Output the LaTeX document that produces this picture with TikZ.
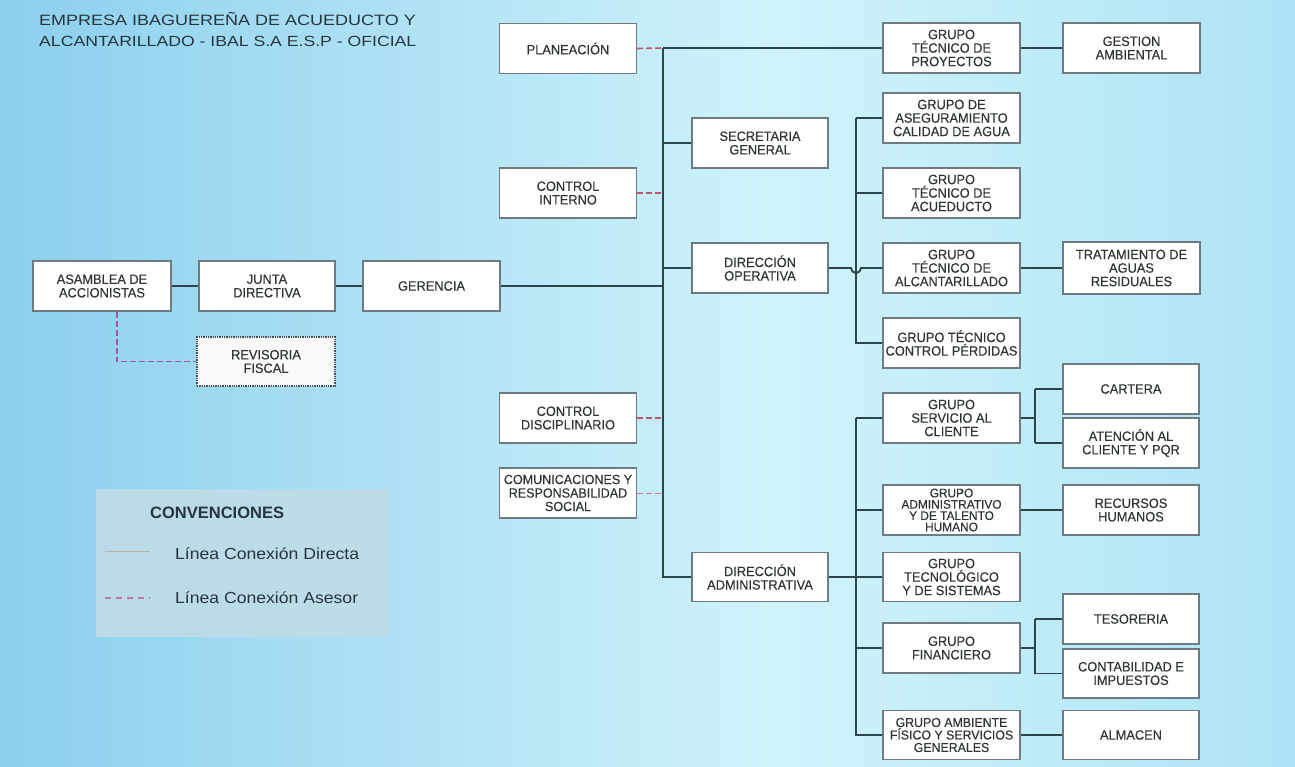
\documentclass[tikz,border=0pt]{standalone}
\usepackage{fontspec}
\setmainfont{Liberation Sans}
\newfontfamily\titlefont[FakeStretch=1.2]{Liberation Sans}
\newfontfamily\legfont[FakeStretch=1.1]{Liberation Sans}
\newfontfamily\boxfont[FakeStretch=0.95,FakeBold=0.15]{Liberation Sans}
\definecolor{bgA}{HTML}{58B0DE}
\definecolor{bgB}{HTML}{8CCFEE}
\definecolor{bgC}{HTML}{D0F3FB}
\definecolor{bgD}{HTML}{A5E0F4}
\definecolor{bgE}{HTML}{6CC4EC}
\definecolor{boxc}{HTML}{6E7C82}
\definecolor{linec}{HTML}{2C454C}
\definecolor{advc}{HTML}{C2566E}
\definecolor{advp}{HTML}{A8579A}
\definecolor{txt}{HTML}{2E3436}
\definecolor{titc}{HTML}{26363E}
\definecolor{legc}{HTML}{BFDCE7}
\pgfdeclarehorizontalshading{bgshade}{100bp}{color(0bp)=(bgA); color(25bp)=(bgB); color(55bp)=(bgC); color(80bp)=(bgD); color(100bp)=(bgE)}
\begin{document}
\begin{tikzpicture}[x=1pt,y=-1pt,
  box/.style={draw=boxc, line width=1.3pt, fill=white, minimum width=137pt, minimum height=50pt, inner sep=0pt, align=center, font=\boxfont\fontsize{13.5}{13.5}\selectfont, text=txt},
  conn/.style={draw=linec, line width=1.9pt},
  adv/.style={draw=advc, line width=1.6pt, dash pattern=on 6pt off 3pt},
  legtext/.style={anchor=west, inner sep=0pt, text=titc, font=\legfont\fontsize{16}{16}\selectfont},
]
\path[shading=bgshade] (0,0) rectangle (1295,767);
\useasboundingbox (0,0) rectangle (1295,767);

% title
\node[anchor=west, inner sep=0pt, text=titc, font=\titlefont\fontsize{15}{15}\selectfont] (t1) at (39,19) {EMPRESA IBAGUEREÑA DE ACUEDUCTO Y};
\node[anchor=west, inner sep=0pt, text=titc, font=\titlefont\fontsize{14.7}{15}\selectfont] (t2) at (39,41) {ALCANTARILLADO - IBAL S.A E.S.P - OFICIAL};

% left chain
\node[box, minimum width=138pt] (asam) at (102,286) {ASAMBLEA DE\\ACCIONISTAS};
\node[box, minimum width=136pt] (junta) at (267,286) {JUNTA\\DIRECTIVA};
\node[box] (ger) at (431.5,286) {GERENCIA};
\node[box, draw=black!70, densely dotted, fill=white!96!gray, minimum width=138pt, minimum height=49pt] (rev) at (266,361.5) {REVISORIA\\FISCAL};

% staff / directions
\node[box] (plan) at (568,48.5) {PLANEACIÓN};
\node[box, minimum width=136pt] (secg) at (760,143) {SECRETARIA\\GENERAL};
\node[box] (cint) at (568,193) {CONTROL\\INTERNO};
\node[box, minimum width=136pt] (dop) at (760,268) {DIRECCIÓN\\OPERATIVA};
\node[box] (cdis) at (568,418) {CONTROL\\DISCIPLINARIO};
\node[box, font=\boxfont\fontsize{13.2}{13.5}\selectfont] (com) at (568,493) {COMUNICACIONES Y\\RESPONSABILIDAD\\SOCIAL};
\node[box, minimum width=136pt, minimum height=49pt] (dadm) at (760,577) {DIRECCIÓN\\ADMINISTRATIVA};

% groups
\node[box] (gtp) at (951.5,48) {GRUPO\\TÉCNICO DE\\PROYECTOS};
\node[box] (gamb) at (1131.5,48) {GESTION\\AMBIENTAL};
\node[box] (gasc) at (951.5,118) {GRUPO DE\\ASEGURAMIENTO\\CALIDAD DE AGUA};
\node[box] (gtac) at (951.5,193) {GRUPO\\TÉCNICO DE\\ACUEDUCTO};
\node[box] (galc) at (951.5,268) {GRUPO\\TÉCNICO DE\\ALCANTARILLADO};
\node[box, minimum height=52pt] (trat) at (1131.5,268) {TRATAMIENTO DE\\AGUAS\\RESIDUALES};
\node[box] (gcp) at (951.5,343) {GRUPO TÉCNICO\\CONTROL PÉRDIDAS};
\node[box] (gsc) at (951.5,418) {GRUPO\\SERVICIO AL\\CLIENTE};
\node[box, minimum width=136pt] (cart) at (1131,389) {CARTERA};
\node[box, minimum width=136pt] (aten) at (1131,443) {ATENCIÓN AL\\CLIENTE Y PQR};
\node[box, font=\boxfont\fontsize{12.5}{11.3}\selectfont] (gadm) at (951.5,510) {GRUPO\\ADMINISTRATIVO\\Y DE TALENTO\\HUMANO};
\node[box, minimum width=136pt] (rrhh) at (1131,510) {RECURSOS\\HUMANOS};
\node[box, minimum height=49pt] (gtec) at (951.5,577) {GRUPO\\TECNOLÓGICO\\Y DE SISTEMAS};
\node[box] (gfin) at (951.5,648) {GRUPO\\FINANCIERO};
\node[box, minimum width=136pt] (teso) at (1131,619) {TESORERIA};
\node[box, minimum width=136pt, minimum height=49pt] (cont) at (1131,673.5) {CONTABILIDAD E\\IMPUESTOS};
\node[box, font=\boxfont\fontsize{13}{12.5}\selectfont, minimum height=49pt] (gamf) at (951.5,735) {GRUPO AMBIENTE\\FÍSICO Y SERVICIOS\\GENERALES};
\node[box, minimum width=136pt, minimum height=49pt] (alm) at (1131,735) {ALMACEN};

% trunk coordinates
\coordinate (ta) at (663,48);
\coordinate (tb) at (663,577);
\coordinate (ua) at (856,118);
\coordinate (ub) at (856,343);
\coordinate (va) at (856,418);
\coordinate (vb) at (856,735);
\coordinate (bx1) at (1035,418);
\coordinate (bx2) at (1035,648);
\coordinate (hopa) at (851,268);
\coordinate (rk) at (117,361.5);

% direct connections
\draw[conn] (asam) -- (junta);
\draw[conn] (junta) -- (ger);
\draw[conn] (ger.east) -- (ger.east -| ta);
\draw[conn] (ta) -- (tb) -- (dadm.west);
\draw[conn] (ta) -- (gtp.west);
\draw[conn] (gtp) -- (gamb);
\draw[conn] (secg.west -| ta) -- (secg.west);
\draw[conn] (dop.west -| ta) -- (dop.west);
\draw[conn] (dop.east) -- (hopa) arc[start angle=180, end angle=360, radius=5pt] -- (galc.west);
\draw[conn] (ua) -- (ub) -- (gcp.west);
\draw[conn] (ua) -- (gasc.west);
\draw[conn] (gtac.west -| ua) -- (gtac.west);
\draw[conn] (galc) -- (trat);
\draw[conn] (va) -- (vb) -- (gamf.west);
\draw[conn] (va) -- (gsc.west);
\draw[conn] (gadm.west -| va) -- (gadm.west);
\draw[conn] (gfin.west -| va) -- (gfin.west);
\draw[conn] (dadm.east) -- (gtec.west);
\draw[conn] (gadm) -- (rrhh);
\draw[conn] (gamf) -- (alm);
\draw[conn] (gsc.east) -- (bx1);
\draw[conn] (bx1 |- cart.west) -- (bx1 |- aten.west);
\draw[conn] (bx1 |- cart.west) -- (cart.west);
\draw[conn] (bx1 |- aten.west) -- (aten.west);
\draw[conn] (gfin.east) -- (bx2);
\draw[conn] (bx2 |- teso.west) -- (bx2 |- cont.west);
\draw[conn] (bx2 |- teso.west) -- (teso.west);
\draw[conn] (bx2 |- cont.west) -- (cont.west);

% advisory connections
\draw[adv] (plan.east) -- (ta);
\draw[adv] (cint.east) -- (cint.east -| ta);
\draw[adv] (cdis.east) -- (cdis.east -| ta);
\draw[adv, line width=1pt, draw=advc!80] (com.east) -- (com.east -| ta);
\draw[adv, draw=advp] (asam.south -| rk) -- (rk) -- (rev.west);

% legend
\node[fill=legc, fill opacity=0.9, minimum width=292pt, minimum height=148pt, inner sep=0pt] (leg) at (242,563) {};
\node[anchor=west, inner sep=0pt, text=titc, font=\bfseries\fontsize{16.5}{16.5}\selectfont] (legt) at (150,513) {CONVENCIONES};
\node[legtext] (leg1) at (175,554) {Línea Conexión Directa};
\node[legtext] (leg2) at (175,598) {Línea Conexión Asesor};
\coordinate (s1a) at (105,551);
\coordinate (s1b) at (150,551);
\coordinate (s2a) at (105,598);
\coordinate (s2b) at (150,598);
\draw[draw=gray!60, line width=0.8pt] (s1a) -- (s1b);
\draw[draw=advp!80, line width=1.2pt, dash pattern=on 6pt off 5pt] (s2a) -- (s2b);
\end{tikzpicture}
\end{document}
